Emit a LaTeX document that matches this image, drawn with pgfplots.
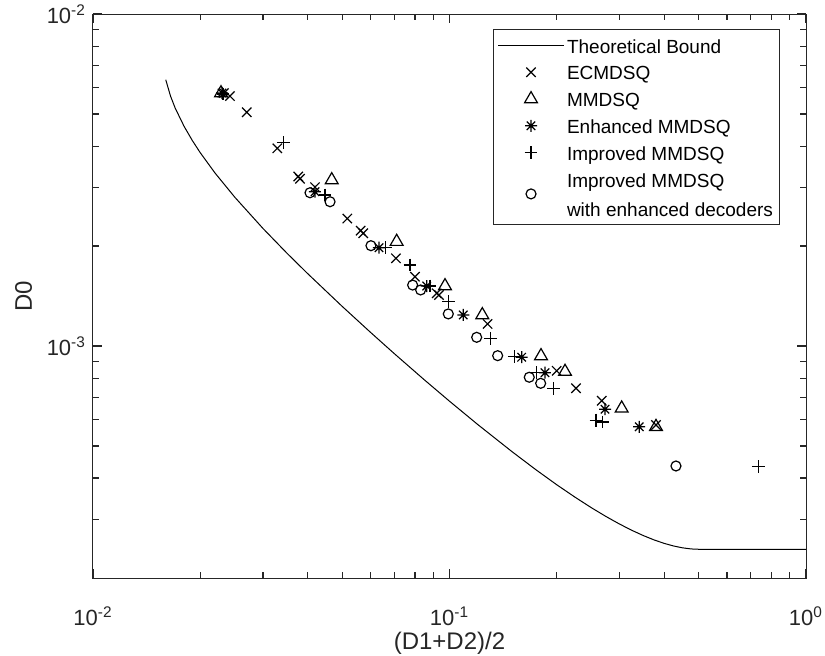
\documentclass[border=0pt]{standalone}
\usepackage{fontspec}
\setmainfont{Liberation Sans}
\usepackage{pgfplots}
\pgfplotsset{compat=1.18}

% MATLAB-style 8-ray asterisk
\pgfdeclareplotmark{ast8}{%
  \pgfpathmoveto{\pgfqpoint{-\pgfplotmarksize}{0pt}}\pgfpathlineto{\pgfqpoint{\pgfplotmarksize}{0pt}}%
  \pgfpathmoveto{\pgfqpoint{0pt}{-\pgfplotmarksize}}\pgfpathlineto{\pgfqpoint{0pt}{\pgfplotmarksize}}%
  \pgfpathmoveto{\pgfqpoint{-.7071\pgfplotmarksize}{-.7071\pgfplotmarksize}}\pgfpathlineto{\pgfqpoint{.7071\pgfplotmarksize}{.7071\pgfplotmarksize}}%
  \pgfpathmoveto{\pgfqpoint{-.7071\pgfplotmarksize}{.7071\pgfplotmarksize}}\pgfpathlineto{\pgfqpoint{.7071\pgfplotmarksize}{-.7071\pgfplotmarksize}}%
  \pgfusepathqstroke}

% fixed row height for legend entries
\newcommand{\lr}{\rule[-3.3pt]{0pt}{12.5pt}}

\begin{document}
\begin{tikzpicture}
\useasboundingbox (-46.5pt,-38.5pt) rectangle (366pt,289pt);
\begin{axis}[
    at={(0,0)}, anchor=south west,
    scale only axis, width=356.5pt, height=282pt,
    xmode=log, ymode=log,
    xmin=0.01, xmax=1, ymin=2e-4, ymax=1e-2,
    xtick={0.01,0.1,1},
    xticklabels={10\textsuperscript{-2},10\textsuperscript{-1},10\textsuperscript{0}},
    ytick={1e-3,1e-2},
    yticklabels={10\textsuperscript{-3},10\textsuperscript{-2}},
    minor xtick={0.02,0.03,0.04,0.05,0.06,0.07,0.08,0.09,0.2,0.3,0.4,0.5,0.6,0.7,0.8,0.9},
    minor ytick={3e-4,4e-4,5e-4,6e-4,7e-4,8e-4,9e-4,2e-3,3e-3,4e-3,5e-3,6e-3,7e-3,8e-3,9e-3},
    tick align=inside, xtick pos=both, ytick pos=both,
    major tick length=4.5pt, minor tick length=2.8pt,
    tick style={draw=black!85, line width=0.6pt},
    axis line style={black!85, line width=0.5pt},
    ticklabel style={font=\fontsize{11}{13}\selectfont, text=black!85},
    xticklabel style={anchor=base, yshift=-23.5pt},
    label style={font=\fontsize{12}{14}\selectfont, text=black!85},
    xlabel={(D1+D2)/2}, ylabel={D0},
    xlabel style={at={([yshift=-35.75pt]axis description cs:0.5,0)}, anchor=base},
    ylabel style={at={([xshift=-30.5pt]axis description cs:0,0.5)}, anchor=base},
    legend image code/.code={\draw[mark repeat=2,mark phase=2,#1] plot coordinates {(0pt,0pt) (16.5pt,0pt) (33pt,0pt)};},
    legend style={at={(axis description cs:1,1)}, anchor=north east, xshift=-13pt, yshift=-7.5pt,
        draw=black!85, line width=0.5pt, font=\fontsize{9.5}{13}\selectfont,
        cells={anchor=west, align=left}, nodes={inner xsep=1.25pt, inner ysep=0.1pt},
        inner xsep=2pt, inner ysep=2.5pt, row sep=2.5pt},
]

\addplot[black, line width=0.5pt] coordinates {
    (0.016,6.34e-3) (0.0165,5.661e-3) (0.017,5.213e-3) (0.018,4.594e-3) (0.019,4.157e-3)
    (0.02,3.820e-3) (0.022,3.3185e-3) (0.025,2.805e-3) (0.03,2.258e-3) (0.035,1.9038e-3)
    (0.04,1.6525e-3) (0.05,1.3162e-3) (0.06,1.1000e-3) (0.07,9.486e-4) (0.085,7.909e-4)
    (0.1,6.819e-4) (0.12,5.801e-4) (0.15,4.798e-4) (0.175,4.234e-4) (0.2,3.819e-4)
    (0.225,3.5032e-4) (0.25,3.2574e-4) (0.275,3.0628e-4) (0.3,2.9076e-4) (0.325,2.7831e-4)
    (0.35,2.6835e-4) (0.375,2.6046e-4) (0.4,2.5434e-4) (0.425,2.4978e-4) (0.45,2.4662e-4)
    (0.475,2.4476e-4) (0.49,2.4424e-4) (0.5,2.4414e-4) (1,2.4414e-4)
};
\addlegendentry{\lr Theoretical Bound}

\addplot[only marks, black, mark=x, mark size=3.3pt, mark options={line width=0.6pt}] coordinates {
    (0.02330,5.78e-3) (0.02422,5.66e-3) (0.02699,5.06e-3) (0.03289,3.94e-3) (0.03766,3.24e-3)
    (0.03807,3.19e-3) (0.04195,3.01e-3) (0.05168,2.42e-3) (0.05634,2.225e-3) (0.05730,2.185e-3)
    (0.07078,1.837e-3) (0.08000,1.617e-3) (0.09207,1.441e-3) (0.09343,1.424e-3) (0.1279,1.165e-3)
    (0.1998,8.42e-4) (0.2263,7.46e-4) (0.2673,6.84e-4) (0.3796,5.78e-4)
};
\addlegendentry{\lr ECMDSQ}

\addplot[only marks, black, mark=triangle, mark size=3.7pt, mark options={line width=0.6pt}] coordinates {
    (0.02286,5.78e-3) (0.04674,3.162e-3) (0.07110,2.062e-3) (0.09714,1.516e-3) (0.1236,1.240e-3)
    (0.1806,9.33e-4) (0.2109,8.37e-4) (0.3041,6.49e-4) (0.3796,5.71e-4)
};
\addlegendentry{\lr MMDSQ}

\addplot[only marks, black, mark=ast8, mark size=3pt, mark options={line width=0.6pt}] coordinates {
    (0.02301,5.78e-3) (0.04195,2.916e-3) (0.06343,1.977e-3) (0.08630,1.516e-3) (0.1093,1.240e-3)
    (0.1594,9.25e-4) (0.1853,8.31e-4) (0.2731,6.45e-4) (0.3406,5.71e-4)
};
\addlegendentry{\lr Enhanced MMDSQ}

\addplot[only marks, black, mark=+, mark size=3.2pt, mark options={line width=0.6pt}] coordinates {
    (0.02316,5.74e-3) (0.03419,4.10e-3) (0.04476,2.85e-3) (0.06622,1.977e-3) (0.07746,1.754e-3)
    (0.08817,1.516e-3) (0.09923,1.359e-3) (0.1305,1.055e-3) (0.1520,9.29e-4) (0.1756,8.31e-4)
    (0.1955,7.46e-4) (0.2576,5.98e-4) (0.2690,5.90e-4) (0.7348,4.33e-4)
};
\addlegendentry{\lr Improved MMDSQ}

\addplot[only marks, black, mark=o, mark size=2.5pt, mark options={line width=0.6pt}] coordinates {
    (0.04062,2.895e-3) (0.04623,2.720e-3) (0.06022,2.005e-3) (0.07883,1.526e-3) (0.08299,1.475e-3)
    (0.09923,1.249e-3) (0.1192,1.062e-3) (0.1365,9.35e-4) (0.1674,8.05e-4) (0.1802,7.72e-4)
    (0.4318,4.35e-4)
};
\addlegendentry{\lr Improved MMDSQ\\[1.5pt]\lr with enhanced decoders}

\end{axis}
\end{tikzpicture}
\end{document}
